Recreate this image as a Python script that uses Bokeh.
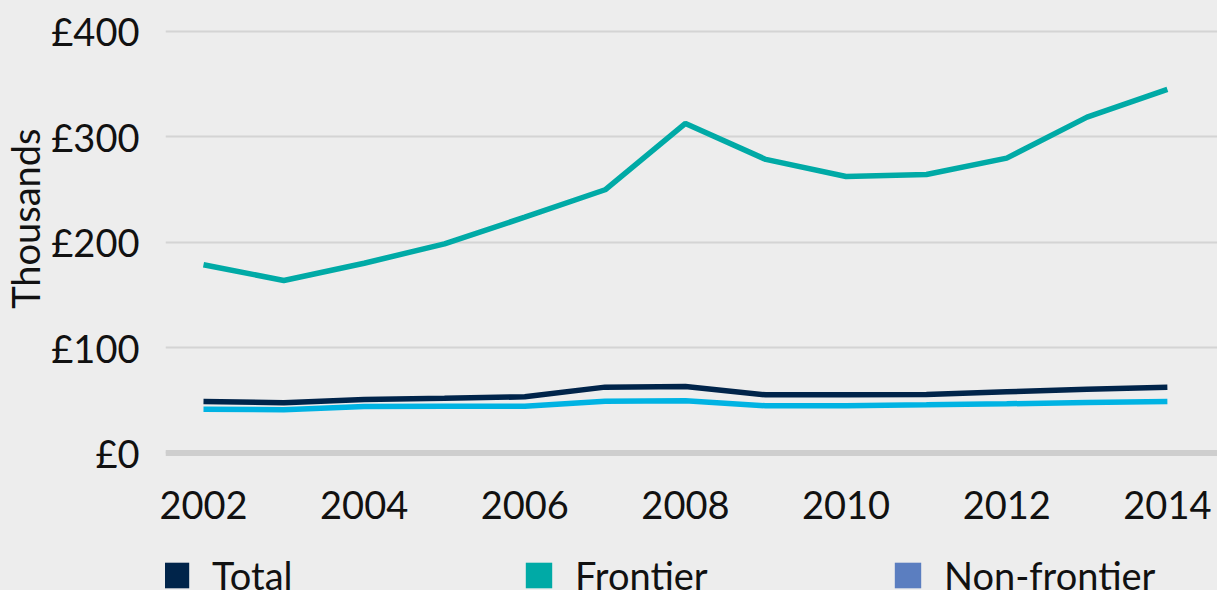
from bokeh.plotting import figure
from bokeh.layouts import column
from bokeh.models import Range1d, FixedTicker, Span, Legend, LegendItem, Title
from bokeh.embed import file_html
from bokeh.resources import INLINE

# ---- data ----
years = [2002, 2003, 2004, 2005, 2006, 2007, 2008, 2009, 2010, 2011, 2012, 2013, 2014]
total = [48.8, 47.5, 50.7, 51.9, 53.2, 62.4, 63.0, 55.1, 55.1, 55.4, 58.0, 60.5, 62.4]
frontier = [178.5, 163.6, 180.0, 198.4, 223.7, 249.7, 312.6, 278.5, 262.3, 264.2, 279.7, 318.6, 344.9]
non_frontier = [41.5, 40.9, 44.0, 44.3, 44.3, 49.1, 49.4, 44.7, 44.7, 45.6, 46.6, 47.8, 48.8]

series_names = ["Total", "Frontier", "Non-frontier"]
y_ticks = [0, 100, 200, 300, 400]
y_tick_labels = ["£0", "£100", "£200", "£300", "£400"]
x_ticks = [2002, 2004, 2006, 2008, 2010, 2012, 2014]
y_axis_title = "Thousands"

# ---- styles ----
BG = "#ededed"
FONT = "Lato"
TEXT = "#111111"
line_colors = ["#00244a", "#00aaa6", "#00b3e3"]
legend_colors = ["#00244a", "#00aaa6", "#5b7ec0"]
legend_x = [-6, 357, 726]   # legend item offsets from the frame's left edge (pixels)

p = figure(width=1217, height=540, output_backend="svg", toolbar_location=None,
           x_range=Range1d(2001.527, 2014.624), y_range=Range1d(-14.8, 421.7),
           min_border_left=164, min_border_right=0, min_border_top=8, min_border_bottom=72,
           background_fill_color=BG, border_fill_color=BG, outline_line_color=None)

# grid
p.xgrid.grid_line_color = None
p.ygrid.grid_line_color = "#d4d4d4"
p.ygrid.grid_line_width = 2
p.ygrid.ticker = FixedTicker(ticks=y_ticks)
p.add_layout(Span(location=0, dimension="width", line_color="#cecece", line_width=6))

# axes
p.yaxis.ticker = FixedTicker(ticks=y_ticks)
p.yaxis.major_label_overrides = {t: l for t, l in zip(y_ticks, y_tick_labels)}
p.xaxis.ticker = FixedTicker(ticks=x_ticks)
for ax in (p.xaxis[0], p.yaxis[0]):
    ax.axis_line_color = None
    ax.major_tick_line_color = None
    ax.minor_tick_line_color = None
    ax.major_tick_out = 0
    ax.major_label_text_font = FONT
    ax.major_label_text_font_size = "38px"
    ax.major_label_text_color = TEXT
p.yaxis.major_label_standoff = 26
p.xaxis.major_label_standoff = 22

# lines
data = [total, frontier, non_frontier]
for vals, col in zip(data, line_colors):
    p.line(years, vals, line_color=col, line_width=5.5)

p.add_layout(Title(text=y_axis_title, align="right", offset=120, vertical_align="middle",
                   text_font=FONT, text_font_size="38px", text_font_style="normal",
                   text_color=TEXT, standoff=0), "left")

# ---- legend strip ----
p2 = figure(width=1217, height=50, output_backend="svg", toolbar_location=None,
            x_range=Range1d(0, 1), y_range=Range1d(0, 1),
            x_axis_location=None, y_axis_location=None,
            min_border_left=0, min_border_right=0, min_border_top=0, min_border_bottom=0,
            background_fill_color=BG, border_fill_color=BG, outline_line_color=None)
p2.xgrid.grid_line_color = None
p2.ygrid.grid_line_color = None

for name, col, lx in zip(series_names, legend_colors, legend_x):
    # zero-area proxy glyph: only used for its legend swatch
    r = p2.quad(left=[0], right=[0], top=[0], bottom=[0], fill_color=col, line_color=None)
    lg = Legend(items=[LegendItem(label=name, renderers=[r])],
                location=(lx, -8), padding=0, margin=0,
                glyph_width=33, glyph_height=32, label_standoff=20,
                label_text_font=FONT, label_text_font_size="38px", label_text_color=TEXT,
                background_fill_alpha=0, border_line_color=None)
    p2.add_layout(lg)

layout = column(p, p2, spacing=0)
html = file_html(layout, INLINE)
html = html.replace("</head>", "<style>body{background:#ededed;}</style></head>", 1)
open("out.html", "w").write(html)
